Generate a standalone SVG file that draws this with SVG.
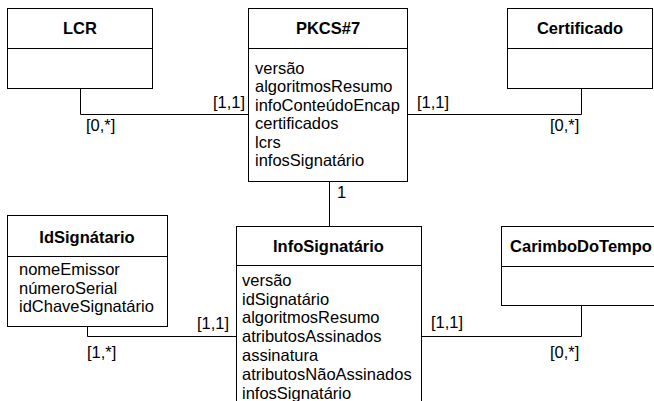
<svg xmlns="http://www.w3.org/2000/svg" width="654" height="401" viewBox="0 0 654 401">
<style>
.box{fill:#fff;stroke:#000;stroke-width:1}
.sep{stroke:#000;stroke-width:1;fill:none}
.title{font-family:"Liberation Sans",Arial,sans-serif;font-size:16.5px;font-weight:bold;fill:#000;text-anchor:middle}
.attr{font-family:"Liberation Sans",Arial,sans-serif;font-size:16.5px;fill:#000}
.lbl{font-family:"Liberation Sans",Arial,sans-serif;font-size:16.5px;fill:#000}
.conn{stroke:#000;stroke-width:1;fill:none}
</style>
<rect width="654" height="401" fill="#fff"/>
<g id="connectors">
<polyline class="conn" points="80.5,88.5 80.5,114.5 248.5,114.5"/>
<polyline class="conn" points="407.5,114.5 581.5,114.5 581.5,88.5"/>
<line class="conn" x1="329.5" y1="181.5" x2="329.5" y2="226.5"/>
<polyline class="conn" points="87.5,326.5 87.5,336.5 236.5,336.5"/>
<polyline class="conn" points="421.5,336.5 581.5,336.5 581.5,305.5"/>
<text class="lbl" x="213" y="108">[1,1]</text>
<text class="lbl" x="86" y="130.5">[0,*]</text>
<text class="lbl" x="417" y="108">[1,1]</text>
<text class="lbl" x="550" y="130.5">[0,*]</text>
<text class="lbl" x="337" y="198">1</text>
<text class="lbl" x="197" y="328.5">[1,1]</text>
<text class="lbl" x="87" y="358">[1,*]</text>
<text class="lbl" x="431" y="327.5">[1,1]</text>
<text class="lbl" x="550" y="358">[0,*]</text>
</g>
<g id="LCR">
<rect class="box" x="7.5" y="8.5" width="145" height="80"/>
<line class="sep" x1="7.5" y1="48.5" x2="152.5" y2="48.5"/>
<text class="title" x="80" y="34">LCR</text>
</g>
<g id="PKCS7">
<rect class="box" x="248.5" y="8.5" width="159" height="173"/>
<line class="sep" x1="248.5" y1="48.5" x2="407.5" y2="48.5"/>
<text class="title" x="328" y="34">PKCS#7</text>
<text class="attr" x="255" y="73.5">versão</text>
<text class="attr" x="255" y="92">algoritmosResumo</text>
<text class="attr" x="255" y="110.5">infoConteúdoEncap</text>
<text class="attr" x="255" y="129">certificados</text>
<text class="attr" x="255" y="147.5">lcrs</text>
<text class="attr" x="255" y="166">infosSignatário</text>
</g>
<g id="Certificado">
<rect class="box" x="507.5" y="8.5" width="145" height="80"/>
<line class="sep" x1="507.5" y1="48.5" x2="652.5" y2="48.5"/>
<text class="title" x="580" y="34">Certificado</text>
</g>
<g id="IdSignatario">
<rect class="box" x="7.5" y="215.5" width="160" height="111"/>
<line class="sep" x1="7.5" y1="256.5" x2="167.5" y2="256.5"/>
<text class="title" x="87" y="242.5">IdSignátario</text>
<text class="attr" x="19" y="275">nomeEmissor</text>
<text class="attr" x="19" y="293.7">númeroSerial</text>
<text class="attr" x="19" y="312.4">idChaveSignatário</text>
</g>
<g id="InfoSignatario">
<rect class="box" x="236.5" y="226.5" width="185" height="190"/>
<line class="sep" x1="236.5" y1="265.5" x2="421.5" y2="265.5"/>
<text class="title" x="328.5" y="252">InfoSignatário</text>
<text class="attr" x="242" y="285.7">versão</text>
<text class="attr" x="242" y="304.5">idSignatário</text>
<text class="attr" x="242" y="323.3">algoritmosResumo</text>
<text class="attr" x="242" y="342.1">atributosAssinados</text>
<text class="attr" x="242" y="360.9">assinatura</text>
<text class="attr" x="242" y="379.7">atributosNãoAssinados</text>
<text class="attr" x="242" y="398.5">infosSignatário</text>
</g>
<g id="CarimboDoTempo">
<rect class="box" x="501.5" y="226.5" width="160" height="79"/>
<line class="sep" x1="501.5" y1="266.5" x2="661.5" y2="266.5"/>
<text class="title" x="581" y="252">CarimboDoTempo</text>
</g>
</svg>
